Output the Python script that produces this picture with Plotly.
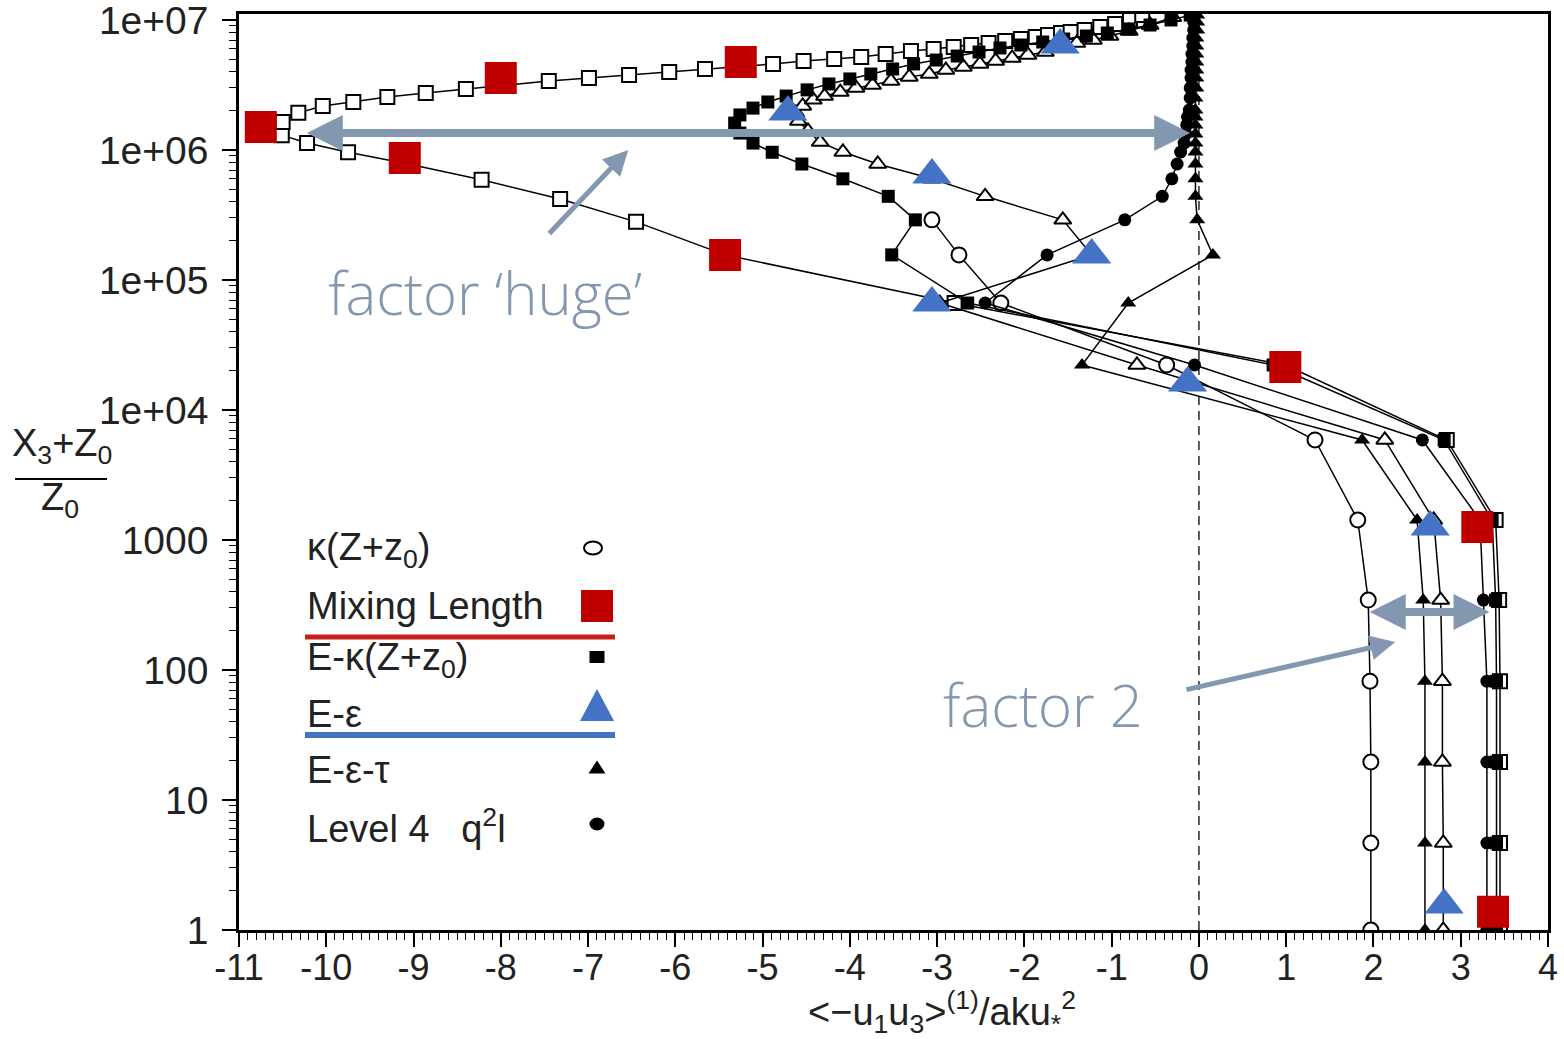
import plotly.graph_objects as go

# ---------------- data ----------------
# kappa(Z+z0) : open circles
kappa_x = [1.97, 1.97, 1.97, 1.96, 1.94, 1.82, 1.33, -0.37, -2.27, -2.75, -3.06]
kappa_y = [1, 4.67, 19.6, 82, 345, 1425, 5880, 22200, 66500, 156000, 290000]

# Mixing Length : open squares
mix_x = [3.45, 3.45, 3.45, 3.45, 3.44, 3.40, 2.84, 0.99,
         -2.80, -5.43, -6.45, -7.32, -8.22, -9.10, -9.75, -10.22, -10.51, -10.70,
         -10.50, -10.32, -10.04, -9.69, -9.30, -8.86, -8.40, -7.95, -7.45, -6.99,
         -6.53, -6.07, -5.66, -5.25, -4.88, -4.53, -4.18, -3.87, -3.59, -3.30,
         -3.04, -2.81, -2.61, -2.41, -2.22, -2.04, -1.87, -1.73, -1.58, -1.47,
         -1.31, -1.13, -0.96, -0.79, -0.65]
mix_y = [1, 4.67, 19.6, 82, 345, 1425, 5880, 22200,
         66500, 1.56e5, 2.8e5, 4.2e5, 5.9e5, 7.9e5, 9.6e5, 1.13e6, 1.3e6, 1.48e6,
         1.64e6, 1.93e6, 2.18e6, 2.34e6, 2.56e6, 2.74e6, 2.95e6, 3.16e6, 3.4e6, 3.58e6,
         3.78e6, 3.98e6, 4.2e6, 4.43e6, 4.59e6, 4.84e6, 5.01e6, 5.19e6, 5.47e6, 5.78e6,
         5.98e6, 6.2e6, 6.42e6, 6.65e6, 6.89e6, 7.14e6, 7.4e6, 7.67e6, 7.94e6, 8.09e6,
         8.38e6, 8.84e6, 9.31e6, 1.0e7, 1.09e7]

# E-kappa(Z+z0) : filled squares
ek_x = [3.41, 3.41, 3.41, 3.41, 3.40, 3.36, 2.81, 0.85,
        -2.65, -3.52, -3.25, -3.56, -4.08, -4.55, -4.89, -5.11, -5.26, -5.32,
        -5.26, -5.11, -4.94,
        -4.73, -4.49, -4.24, -4.00, -3.76, -3.51, -3.27, -3.01, -2.77, -2.52,
        -2.28, -2.04, -1.79, -1.55, -1.29, -1.05, -0.80, -0.56, -0.32, -0.10]
ek_y = [1, 4.67, 19.6, 82, 345, 1425, 5880, 22200,
        66500, 1.56e5, 2.9e5, 4.4e5, 6.0e5, 7.8e5, 9.6e5, 1.13e6, 1.35e6, 1.61e6,
        1.86e6, 2.1e6, 2.34e6,
        2.6e6, 2.9e6, 3.22e6, 3.52e6, 3.84e6, 4.2e6, 4.59e6, 4.92e6, 5.28e6, 5.67e6,
        6.09e6, 6.42e6, 6.77e6, 7.14e6, 7.53e6, 7.94e6, 8.53e6, 9.15e6, 1.0e7, 1.09e7]

# E-epsilon : open triangles
ee_x = [2.80, 2.80, 2.79, 2.79, 2.77, 2.69, 2.13, -0.71,
        -2.97, -1.23, -1.56, -2.45, -3.06, -3.68, -4.08,
        -4.34, -4.48, -4.59, -4.62, -4.54, -4.42, -4.29, -4.11, -3.93, -3.74,
        -3.53, -3.32, -3.09, -2.90, -2.70, -2.51, -2.33, -2.14, -1.96, -1.76,
        -1.58, -1.40, -1.21, -1.02, -0.80, -0.56, -0.30]
ee_y = [1, 4.67, 19.6, 82, 345, 1425, 5880, 22200,
        66500, 1.56e5, 2.9e5, 4.4e5, 6.0e5, 7.8e5, 9.65e5,
        1.15e6, 1.40e6, 1.67e6, 1.93e6, 2.18e6, 2.43e6, 2.60e6, 2.79e6, 3.0e6, 3.16e6,
        3.4e6, 3.65e6, 3.84e6, 4.12e6, 4.35e6, 4.59e6, 4.84e6, 5.1e6, 5.38e6, 5.67e6,
        6.31e6, 6.65e6, 7.02e6, 7.53e6, 8.23e6, 9.15e6, 1.05e7]

# E-epsilon-tau : filled triangles
eet_x = [2.59, 2.59, 2.59, 2.59, 2.57, 2.50, 1.87, -1.34,
         -0.81, 0.16, -0.02, -0.04, -0.04, -0.04, -0.04, -0.04, -0.04, -0.04,
         -0.04, -0.04, -0.04, -0.03, -0.03, -0.03, -0.03, -0.03, -0.03, -0.03,
         -0.02, -0.02, -0.02]
eet_y = [1, 4.67, 19.6, 82, 345, 1425, 5880, 22200,
         66500, 1.56e5, 2.9e5, 4.4e5, 6.0e5, 7.8e5, 9.65e5, 1.13e6, 1.33e6, 1.56e6,
         1.79e6, 2.03e6, 2.51e6, 3.0e6, 3.58e6, 4.12e6, 4.75e6, 5.47e6, 6.31e6, 7.27e6,
         8.38e6, 9.66e6, 1.09e7]

# Level 4 q2l : filled circles
l4_x = [3.30, 3.30, 3.30, 3.30, 3.26, 3.22, 2.56, -0.05,
        -2.45, -1.74, -0.85, -0.42, -0.31, -0.25, -0.21, -0.17, -0.15, -0.14,
        -0.13, -0.11, -0.10, -0.10, -0.09, -0.09, -0.08, -0.08, -0.07, -0.07,
        -0.06, -0.06, -0.05]
l4_y = [1, 4.67, 19.6, 82, 345, 1425, 5880, 22200,
        66500, 1.56e5, 2.9e5, 4.4e5, 6.0e5, 7.8e5, 9.65e5, 1.13e6, 1.33e6, 1.56e6,
        1.79e6, 2.03e6, 2.51e6, 3.0e6, 3.58e6, 4.12e6, 4.75e6, 5.47e6, 6.31e6, 7.27e6,
        8.38e6, 9.66e6, 1.09e7]

# overlay highlights: Mixing Length (red squares), E-epsilon (blue triangles)
hl_mix_x = [-10.75, -9.10, -8.00, -5.25, -5.43, 0.99, 3.19, 3.37]
hl_mix_y = [1.50e6, 8.67e5, 3.58e6, 4.75e6, 1.56e5, 2.14e4, 1260, 1.38]
hl_ee_x = [-1.59, -4.71, -3.06, -1.23, -3.06, -0.13, 2.65, 2.81]
hl_ee_y = [6.42e6, 1.96e6, 6.42e5, 1.56e5, 6.65e4, 1.61e4, 1260, 1.56]

x_ticks = list(range(-11, 5))
x_ticktext = [str(v) for v in x_ticks]
y_ticks = [1, 10, 100, 1000, 1e4, 1e5, 1e6, 1e7]
y_ticktext = ["1", "10", "100", "1000", "1e+04", "1e+05", "1e+06", "1e+07"]
y_minor = [k * 10 ** d for d in range(0, 7) for k in range(2, 10)]

# ---------------- figure ----------------
W, H = 1564, 1039
L, R, T, B = 239, 1548, 14, 930
FONT = "Liberation Sans, Arial, sans-serif"
ARROW = "#8497B0"
RED = "#C00000"
BLUE = "#4472C4"


def P(px, py):
    return (px - L) / (R - L), (B - py) / (B - T)


fig = go.Figure()

fig.add_trace(go.Scatter(x=[0, 0], y=[1, 1.11e7], mode="lines",
                         line=dict(color="#333", width=1.6, dash="9px,6px"),
                         hoverinfo="skip", showlegend=False))

line = dict(color="black", width=1.5)
series = [
    (mix_x, mix_y, dict(symbol="square", size=14, color="white",
                        line=dict(color="black", width=2))),
    (kappa_x, kappa_y, dict(symbol="circle", size=15, color="white",
                            line=dict(color="black", width=2))),
    (ee_x, ee_y, dict(symbol="triangle-up", size=15, color="white",
                      line=dict(color="black", width=2))),
    (ek_x, ek_y, dict(symbol="square", size=13, color="black")),
    (eet_x, eet_y, dict(symbol="triangle-up", size=14, color="black")),
    (l4_x, l4_y, dict(symbol="circle", size=13, color="black")),
]
for sx, sy, mk in series:
    fig.add_trace(go.Scatter(x=sx, y=sy, mode="lines+markers", line=line,
                             marker=mk, showlegend=False))

fig.add_trace(go.Scatter(x=hl_mix_x, y=hl_mix_y, mode="markers",
                         marker=dict(symbol="square", size=32, color=RED),
                         showlegend=False))
fig.add_trace(go.Scatter(x=hl_ee_x, y=hl_ee_y, mode="markers",
                         marker=dict(symbol="triangle-up", size=34, color=BLUE),
                         showlegend=False))

shapes = []
anns = []


def rect(cx, cy, w, h, fill, lw=0, lc="black"):
    x0, y0 = P(cx - w / 2, cy + h / 2)
    x1, y1 = P(cx + w / 2, cy - h / 2)
    return dict(type="rect", xref="paper", yref="paper", x0=x0, y0=y0, x1=x1, y1=y1,
                fillcolor=fill, line=dict(width=lw, color=lc), layer="above")


def ellipse(cx, cy, w, h, fill, lw=0):
    x0, y0 = P(cx - w / 2, cy + h / 2)
    x1, y1 = P(cx + w / 2, cy - h / 2)
    return dict(type="circle", xref="paper", yref="paper", x0=x0, y0=y0, x1=x1, y1=y1,
                fillcolor=fill, line=dict(width=lw, color="black"), layer="above")


def tri(cx, cy, w, h, fill):
    a = P(cx - w / 2, cy + h / 2)
    b = P(cx + w / 2, cy + h / 2)
    c = P(cx, cy - h / 2)
    path = f"M {a[0]},{a[1]} L {b[0]},{b[1]} L {c[0]},{c[1]} Z"
    return dict(type="path", xref="paper", yref="paper", path=path,
                fillcolor=fill, line=dict(width=0), layer="above")


def hline(x0p, x1p, yp, color, w):
    a = P(x0p, yp)
    b = P(x1p, yp)
    return dict(type="line", xref="paper", yref="paper", x0=a[0], y0=a[1], x1=b[0], y1=b[1],
                line=dict(color=color, width=w), layer="above")


shapes += [
    ellipse(593, 548, 18, 13, "white", 2),
    rect(597, 606, 32, 32, RED),
    hline(305, 615, 637, "#C8201E", 5),
    rect(597, 657, 15, 12, "black"),
    tri(597, 705, 34, 32, BLUE),
    hline(305, 615, 735, BLUE, 6),
    tri(597, 767, 17, 13, "black"),
    ellipse(597, 824, 15, 13, "black"),
    hline(15, 107, 479, "black", 2),
]

leg_texts = [
    ("κ(Z+z<sub>0</sub>)", 550),
    ("Mixing Length", 606),
    ("E-κ(Z+z<sub>0</sub>)", 660),
    ("E-ε", 714),
    ("E-ε-τ", 770),
    ("Level 4\u00a0\u00a0\u00a0q<sup>2</sup>l", 826),
]
for txt, py in leg_texts:
    x, y = P(305, py)
    anns.append(dict(xref="paper", yref="paper", x=x, y=y, xanchor="left", yanchor="middle",
                     text=txt, showarrow=False, font=dict(family=FONT, size=38, color="#222")))

# y-axis title as a fraction
x, y = P(62, 446)
anns.append(dict(xref="paper", yref="paper", x=x, y=y, xanchor="center", yanchor="middle",
                 text="X<sub>3</sub>+Z<sub>0</sub>", showarrow=False,
                 font=dict(family=FONT, size=38, color="#222")))
x, y = P(60, 500)
anns.append(dict(xref="paper", yref="paper", x=x, y=y, xanchor="center", yanchor="middle",
                 text="Z<sub>0</sub>", showarrow=False,
                 font=dict(family=FONT, size=38, color="#222")))

# x-axis title
x, y = P(942, 1012)
anns.append(dict(xref="paper", yref="paper", x=x, y=y, xanchor="center", yanchor="middle",
                 text="<−u<sub>1</sub>u<sub>3</sub>><sup>(1)</sup>/aku<sub>*</sub><sup>2</sup>",
                 showarrow=False, font=dict(family=FONT, size=38, color="#222")))


def arrow(x0, y0, x1, y1, width, size, both=False):
    return dict(xref="x", yref="y", axref="x", ayref="y", x=x1, y=y1, ax=x0, ay=y0,
                text="", showarrow=True, arrowhead=2, arrowsize=size, arrowwidth=width,
                arrowcolor=ARROW, arrowside="end+start" if both else "end",
                startarrowhead=2, startarrowsize=size)


anns.append(arrow(-10.24, 6.131, -0.10, 6.131, 8, 0.9, both=True))
anns.append(arrow(1.94, 2.446, 3.33, 2.446, 8, 0.9, both=True))
anns.append(arrow(-7.46, 5.346, -6.54, 6.0, 5, 1.0))
anns.append(arrow(-0.16, 1.846, 2.25, 2.215, 5, 1.0))

anns.append(dict(xref="x", yref="y", x=-8.18, y=4.9, text="factor ‘huge’", showarrow=False,
                 xanchor="center", yanchor="middle",
                 font=dict(family="Open Sans, Lato, sans-serif", size=58, color=ARROW, weight=300)))
anns.append(dict(xref="x", yref="y", x=-1.79, y=1.731, text="factor 2", showarrow=False,
                 xanchor="center", yanchor="middle",
                 font=dict(family="Open Sans, Lato, sans-serif", size=58, color=ARROW, weight=300)))

fig.update_layout(
    width=W, height=H,
    margin=dict(l=L, r=W - R, t=T, b=H - B, pad=0, autoexpand=False),
    paper_bgcolor="white", plot_bgcolor="white",
    showlegend=False,
    shapes=shapes, annotations=anns,
    xaxis=dict(range=[-11, 4], tickmode="array", tickvals=x_ticks, ticktext=x_ticktext,
               ticks="outside", ticklen=14, tickwidth=2, tickcolor="black",
               showline=True, linecolor="black", linewidth=2.5, mirror=True,
               showgrid=False, zeroline=False, automargin=False, ticklabelstandoff=-10,
               ticklabeloverflow="allow",
               tickfont=dict(family=FONT, size=36, color="#222"),
               minor=dict(dtick=0.1, tick0=0, ticks="outside", ticklen=7, tickwidth=1.3,
                          tickcolor="black", showgrid=False)),
    yaxis=dict(type="log", range=[0, 7.046], tickmode="array", tickvals=y_ticks,
               ticktext=y_ticktext,
               ticks="outside", ticklen=14, tickwidth=2, tickcolor="black",
               showline=True, linecolor="black", linewidth=2.5, mirror=True,
               showgrid=False, zeroline=False, automargin=False, ticklabelstandoff=6,
               ticklabeloverflow="allow",
               tickfont=dict(family=FONT, size=39, color="#222"),
               minor=dict(tickmode="array", tickvals=y_minor, ticks="outside", ticklen=7,
                          tickwidth=1.3, tickcolor="black", showgrid=False)),
)

fig.write_html("out.html", config={"displayModeBar": False},
               post_script="document.body.style.margin='0';document.body.style.overflow='hidden';")
